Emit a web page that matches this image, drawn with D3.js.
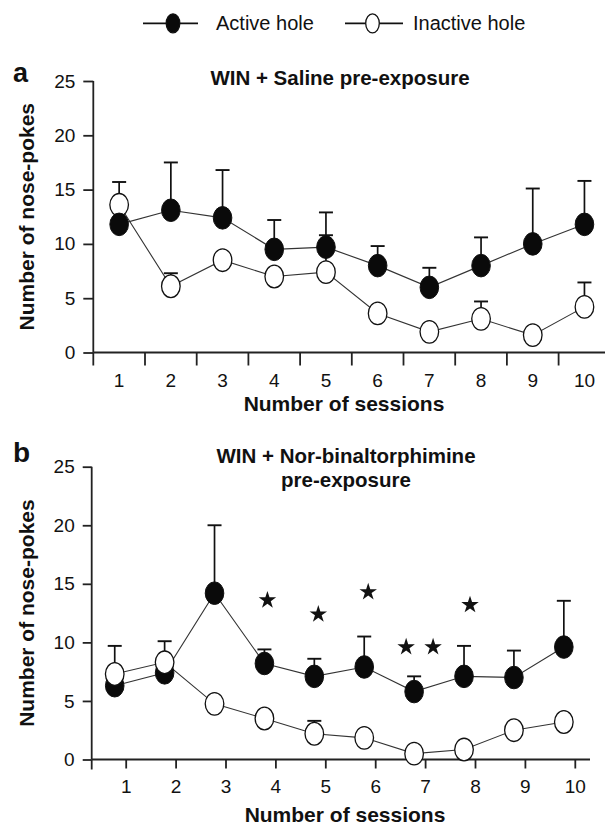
<!DOCTYPE html>
<html>
<head>
<meta charset="utf-8">
<script src="https://cdn.jsdelivr.net/npm/d3@7/dist/d3.min.js"></script>
<style>
  html, body { margin: 0; padding: 0; background: #fff; }
  svg { display: block; }
  text { font-family: "Liberation Sans", Arial, Helvetica, sans-serif; fill: #111; }
</style>
</head>
<body>
<div id="chart"></div>
<script>
// ---------- data ----------
const sessions = [1, 2, 3, 4, 5, 6, 7, 8, 9, 10];
const yTickValues = [0, 5, 10, 15, 20, 25];

// Panel a: WIN + Saline pre-exposure
const salineActive      = [11.8, 13.1, 12.4, 9.5, 9.7, 8.0, 6.0, 8.0, 10.0, 11.8];
const salineActiveSem   = [0, 4.4, 4.4, 2.7, 3.2, 1.8, 1.8, 2.6, 5.1, 4.0];
const salineInactive    = [13.6, 6.1, 8.5, 7.0, 7.4, 3.6, 1.9, 3.1, 1.6, 4.2];
const salineInactiveSem = [2.1, 1.2, 0, 0, 3.4, 0, 0, 1.6, 0, 2.25];

// Panel b: WIN + Nor-binaltorphimine pre-exposure
const norActive      = [6.3, 7.4, 14.2, 8.2, 7.1, 7.9, 5.8, 7.1, 7.0, 9.6];
const norActiveSem   = [0, 0, 5.8, 1.2, 1.5, 2.6, 1.3, 2.6, 2.3, 3.95];
const norInactive    = [7.3, 8.3, 4.75, 3.5, 2.2, 1.85, 0.5, 0.85, 2.5, 3.2];
const norInactiveSem = [2.4, 1.8, 0, 0, 1.1, 0, 0, 0, 0, 0];

// significance stars in panel b (session position, value)
const starSessions = [3.84, 4.86, 5.86, 6.62, 7.16, 7.90];
const starValues   = [13.6, 12.4, 14.3, 9.6, 9.6, 13.2];

const legendLabels = ["Active hole", "Inactive hole"];
const titleA = ["WIN + Saline pre-exposure"];
const titleB = ["WIN + Nor-binaltorphimine", "pre-exposure"];
const xTitle = "Number of sessions";
const yTitle = "Number of nose-pokes";

// ---------- drawing ----------
const W = 605, H = 827;
const svg = d3.select("#chart").append("svg").attr("width", W).attr("height", H);
svg.append("rect").attr("width", W).attr("height", H).attr("fill", "#fff");

const axisColor = "#222";
const RX = 9.3, RY = 11.3;

function drawYAxis(g, y, x0, tickLen) {
  const ax = g.append("g").attr("transform", `translate(${x0},0)`)
    .call(d3.axisLeft(y).tickValues(yTickValues).tickSize(tickLen).tickPadding(8));
  ax.select(".domain").remove();
  ax.selectAll(".tick line").attr("stroke", axisColor).attr("stroke-width", 1.8);
  ax.selectAll(".tick text").attr("font-size", 19).attr("fill", "#111")
    .style("font-family", '"Liberation Sans", Arial, sans-serif');
  g.append("line").attr("x1", x0).attr("x2", x0).attr("y1", y(25)).attr("y2", y(0))
    .attr("stroke", axisColor).attr("stroke-width", 1.8);
}

function drawSeries(g, xf, y, vals) {
  g.append("path").datum(vals)
    .attr("d", d3.line().x((d, i) => xf(sessions[i])).y(d => y(d)))
    .attr("fill", "none").attr("stroke", "#333").attr("stroke-width", 1.1);
}
function drawErrors(g, xf, y, vals, sems) {
  vals.forEach((v, i) => {
    if (!sems[i]) return;
    const cx = xf(sessions[i]);
    g.append("line").attr("x1", cx).attr("x2", cx).attr("y1", y(v)).attr("y2", y(v + sems[i]))
      .attr("stroke", "#111").attr("stroke-width", 1.7);
    g.append("line").attr("x1", cx - 7).attr("x2", cx + 7).attr("y1", y(v + sems[i])).attr("y2", y(v + sems[i]))
      .attr("stroke", "#111").attr("stroke-width", 1.9);
  });
}
function drawMarkers(g, xf, y, vals, filled) {
  g.selectAll(null).data(vals).enter().append("ellipse")
    .attr("cx", (d, i) => xf(sessions[i])).attr("cy", d => y(d))
    .attr("rx", RX).attr("ry", RY)
    .attr("fill", filled ? "#0a0a0a" : "#fff")
    .attr("stroke", "#111").attr("stroke-width", filled ? 1 : 1.3);
}

// ---------- legend ----------
const leg = svg.append("g");
[[143, 198, 173, true, 216], [345, 403, 372.5, false, 413]].forEach((p, k) => {
  leg.append("line").attr("x1", p[0]).attr("x2", p[1]).attr("y1", 23.3).attr("y2", 23.3)
    .attr("stroke", "#111").attr("stroke-width", 1.8);
  leg.append("ellipse").attr("cx", p[2]).attr("cy", 23.3).attr("rx", 6.8).attr("ry", 9.5)
    .attr("fill", p[3] ? "#0a0a0a" : "#fff").attr("stroke", "#111").attr("stroke-width", 1.3);
  leg.append("text").attr("x", p[4]).attr("y", 30).attr("font-size", 20).text(legendLabels[k]);
});

// ---------- panel a ----------
{
  const g = svg.append("g");
  const y = d3.scaleLinear().domain([0, 25]).range([352.5, 81]);
  const xb = d3.scaleBand().domain(sessions).range([93.3, 610.3]);
  const xc = s => xb(s) + xb.bandwidth() / 2;

  drawYAxis(g, y, 93.3, 10);
  g.append("line").attr("x1", 93.3).attr("x2", 605).attr("y1", y(0)).attr("y2", y(0))
    .attr("stroke", axisColor).attr("stroke-width", 1.8);
  g.selectAll(null).data(sessions).enter().append("line")
    .attr("x1", d => xb(d)).attr("x2", d => xb(d)).attr("y1", y(0)).attr("y2", y(0) + 13)
    .attr("stroke", axisColor).attr("stroke-width", 1.8);
  const xa = g.append("g").attr("transform", `translate(0,${y(0)})`)
    .call(d3.axisBottom(xb).tickSize(0).tickPadding(21));
  xa.select(".domain").remove();
  xa.selectAll(".tick text").attr("font-size", 19).attr("fill", "#111")
    .style("font-family", '"Liberation Sans", Arial, sans-serif');

  drawSeries(g, xc, y, salineInactive);
  drawSeries(g, xc, y, salineActive);
  drawErrors(g, xc, y, salineInactive, salineInactiveSem);
  drawErrors(g, xc, y, salineActive, salineActiveSem);
  drawMarkers(g, xc, y, salineInactive, false);
  drawMarkers(g, xc, y, salineActive, true);

  g.append("text").attr("x", 13).attr("y", 82).attr("font-size", 27).attr("font-weight", "bold").text("a");
  g.append("text").attr("x", 340).attr("y", 85).attr("text-anchor", "middle")
    .attr("font-size", 20.5).attr("font-weight", "bold").text(titleA[0]);
  g.append("text").attr("x", 344).attr("y", 411).attr("text-anchor", "middle")
    .attr("font-size", 21).attr("font-weight", "bold").text(xTitle);
  g.append("text").attr("transform", `translate(34,${(y(0) + y(25)) / 2}) rotate(-90)`)
    .attr("text-anchor", "middle").attr("font-size", 21).attr("font-weight", "bold").text(yTitle);
}

// ---------- panel b ----------
{
  const g = svg.append("g");
  const y = d3.scaleLinear().domain([0, 25]).range([759.5, 466.7]);
  const x = d3.scaleLinear().domain([1, 10]).range([125.7, 574.8]);
  const off = -0.22;
  const xp = s => x(s + off);

  drawYAxis(g, y, 91.7, 9);
  g.append("line").attr("x1", 91.7).attr("x2", 590).attr("y1", y(0)).attr("y2", y(0))
    .attr("stroke", axisColor).attr("stroke-width", 1.8);
  g.append("line").attr("x1", 91.7).attr("x2", 91.7).attr("y1", y(0)).attr("y2", y(0) + 10)
    .attr("stroke", axisColor).attr("stroke-width", 1.8);
  const xa = g.append("g").attr("transform", `translate(0,${y(0)})`)
    .call(d3.axisBottom(x).tickValues(sessions).tickFormat(d3.format("d")).tickSize(9).tickPadding(11));
  xa.select(".domain").remove();
  xa.selectAll(".tick line").attr("stroke", axisColor).attr("stroke-width", 1.8);
  xa.selectAll(".tick text").attr("font-size", 19).attr("fill", "#111")
    .style("font-family", '"Liberation Sans", Arial, sans-serif');

  drawSeries(g, xp, y, norActive);
  drawSeries(g, xp, y, norInactive);
  drawErrors(g, xp, y, norActive, norActiveSem);
  drawErrors(g, xp, y, norInactive, norInactiveSem);
  drawMarkers(g, xp, y, norActive, true);
  drawMarkers(g, xp, y, norInactive, false);

  g.selectAll(null).data(starValues).enter().append("path")
    .attr("d", d3.symbol().type(d3.symbolStar).size(95))
    .attr("transform", (d, i) => `translate(${x(starSessions[i])},${y(d)})`)
    .attr("fill", "#111");

  g.append("text").attr("x", 13).attr("y", 462).attr("font-size", 28).attr("font-weight", "bold").text("b");
  titleB.forEach((t, k) => {
    g.append("text").attr("x", 346).attr("y", 463 + k * 24).attr("text-anchor", "middle")
      .attr("font-size", 20.5).attr("font-weight", "bold").text(t);
  });
  g.append("text").attr("x", 345).attr("y", 822).attr("text-anchor", "middle")
    .attr("font-size", 21).attr("font-weight", "bold").text(xTitle);
  g.append("text").attr("transform", `translate(34,${(y(0) + y(25)) / 2}) rotate(-90)`)
    .attr("text-anchor", "middle").attr("font-size", 21).attr("font-weight", "bold").text(yTitle);
}
</script>
</body>
</html>
